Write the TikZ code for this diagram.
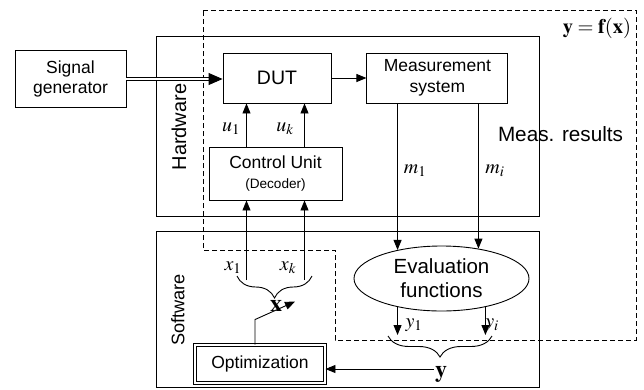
\documentclass[tikz,border=0pt]{standalone}
\usepackage{mathptmx}
\usepackage[no-math]{fontspec}
\setmainfont{Liberation Sans}
\usetikzlibrary{arrows.meta,calc,positioning,shapes.geometric,decorations.pathreplacing}
\tikzstyle{blk}=[draw,align=center,inner sep=2pt,font=\fontsize{17.5}{20.5}\selectfont]
\tikzstyle{frame}=[draw,inner sep=0pt]
\tikzstyle{lbl}=[inner sep=1pt,font=\fontsize{20}{22}\selectfont]
\tikzstyle{side}=[rotate=90,inner sep=1pt]
\tikzstyle{brc}=[decorate,decoration={brace,mirror,amplitude=#1}]

\begin{document}
\begin{tikzpicture}[x=1pt,y=-1pt,line width=0.9pt,>={Triangle[length=10pt,width=8pt]}]
    \useasboundingbox (0,0) rectangle (644,389);
    % outer frames
    \node [frame,minimum width=383pt,minimum height=180pt] (hw) at (347.5,126) {};
    \node [frame,minimum width=383pt,minimum height=156pt] (sw) at (347.5,309) {};
    \node [side,font=\fontsize{20}{22}\selectfont] (hwl) at (179,127) {Hardware};
    \node [side,font=\fontsize{18.2}{20}\selectfont] (swl) at (178,310) {Software};
    \draw [dash pattern=on 5pt off 3pt] (203,10) -- (636,10) -- (636,340) -- (335,340)
          -- (335,250) -- (203,250) -- cycle;

    % blocks
    \node [blk,minimum width=111pt,minimum height=57pt] (sig) at (70.5,79) {Signal\\generator};
    \node [blk,minimum width=108pt,minimum height=50pt,font=\fontsize{19.5}{22}\selectfont] (dut) at (277,78) {DUT};
    \node [blk,minimum width=141pt,minimum height=50pt] (meas) [right=35pt of dut] {Measurement\\system};
    \node [blk,minimum width=133pt,minimum height=53pt] (ctrl) at (275.5,173.5)
          {Control Unit\\{\fontsize{13.6}{16}\selectfont(Decoder)}};
    \node [blk,ellipse,minimum width=175pt,minimum height=65pt,inner sep=0pt,
           font=\fontsize{20.5}{24}\selectfont] (ev) at (441.5,278.5) {Evaluation\\functions};
    \node [blk,double,double distance=2pt,minimum width=130pt,minimum height=38pt] (opt) at (260,364) {Optimization};

    % labels
    \node [lbl] (u1) at (231,129) {$u_1$};
    \node [lbl] (uk) at (285,129) {$u_k$};
    \node [lbl] (m1) at (415,171) {$m_1$};
    \node [lbl] (mi) at (495,171) {$m_i$};
    \node [lbl] (x1) at (233,268) {$x_1$};
    \node [lbl] (xk) at (288,268) {$x_k$};
    \node [lbl] (y1) at (414,325) {$y_1$};
    \node [lbl] (yi) at (492,325) {$y_i$};
    \node [lbl,font=\fontsize{24}{26}\selectfont] (xvec) at (276,306) {$\mathbf{x}$};
    \node [lbl,font=\fontsize{24}{26}\selectfont] (yvec) at (441,374) {$\mathbf{y}$};
    \node [lbl,font=\fontsize{20.5}{22}\selectfont] (yfx) at (597,28) {$\mathbf{y}=\mathbf{f}(\mathbf{x})$};
    \node [inner sep=1pt,font=\fontsize{20.7}{23}\selectfont] (res) at (560.5,134) {Meas. results};

    % connectors
    \draw [double,double distance=2.2pt,line width=0.8pt] (sig.east) -- ([xshift=-13pt]sig.east -| dut.west);
    \draw [-{Triangle[length=14pt,width=12pt]}] ([xshift=-14pt]sig.east -| dut.west) -- (sig.east -| dut.west);
    \draw [->] (dut) -- (meas);
    \draw [->] ([xshift=-29pt]ctrl.north) -- ([xshift=-29pt]ctrl.north |- dut.south);
    \draw [->] ([xshift=29pt]ctrl.north) -- ([xshift=29pt]ctrl.north |- dut.south);
    \coordinate (xa1) at (246.5,280);
    \coordinate (xa2) at (304.5,280);
    \draw [->] (xa1) -- (xa1 |- ctrl.south);
    \draw [->] (xa2) -- (xa2 |- ctrl.south);
    \draw [brc=22pt] (237,276) -- (312,276);
    \draw [->] (ev.147 |- meas.south) -- (ev.147);
    \draw [->] (ev.39 |- meas.south) -- (ev.39);
    \coordinate (yb) at (0,335);
    \draw [->] (ev.213) -- (ev.213 |- yb);
    \draw [->] (ev.327) -- (ev.327 |- yb);
    \draw [brc=21pt] (388,336) -- (492,336);
    \draw [->] ([yshift=5pt]yvec.west) -- ([yshift=5pt]yvec.west -| opt.east);
    \draw [->] ([xshift=-5pt]opt.north) -- ++(0,-25) -- ++(40,-18);
\end{tikzpicture}
\end{document}
